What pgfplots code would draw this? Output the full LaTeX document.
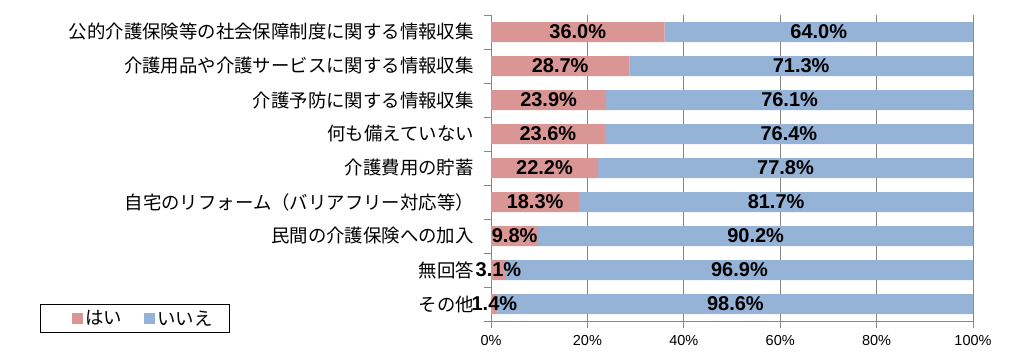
\documentclass[border=0pt]{standalone}
\usepackage{fontspec}
\setmainfont{Liberation Sans}
\newfontfamily\jp{Noto Sans CJK JP}
\usepackage{pgfplots}
\usepackage{pgfplotstable}
\pgfplotsset{compat=1.18}
\definecolor{cyes}{HTML}{D99694}
\definecolor{cno}{HTML}{95B3D7}
\definecolor{axgray}{HTML}{868686}
\pgfplotstableread{
y yes no
0 36.0 64.0
1 28.7 71.3
2 23.9 76.1
3 23.6 76.4
4 22.2 77.8
5 18.3 81.7
6 9.8 90.2
7 3.1 96.9
8 1.4 98.6
}\data
\begin{document}
\begin{tikzpicture}
\useasboundingbox (0,0) rectangle (1017pt,357pt);
\pgfplotsset{
  common/.style={
    at={(491pt,36pt)}, anchor=south west,
    scale only axis, width=482pt, height=306pt,
    xmin=0, xmax=100, ymin=-0.5, ymax=8.5, y dir=reverse,
    /pgf/number format/assume math mode=true,
  }
}
\begin{axis}[common,
  xbar stacked, bar width=20pt,
  axis x line*=bottom, axis y line*=left,
  axis line style={axgray, line width=1pt},
  tick align=outside,
  xtick={0,20,...,100},
  xticklabel={\pgfmathprintnumber{\tick}\%},
  xticklabel style={font=\fontsize{14.5}{16}\selectfont, yshift=-4pt},
  xmajorgrids, grid style={axgray, line width=1pt},
  major tick length=7pt,
  tick style={axgray, line width=1pt},
  ytick={-0.5,0.5,1.5,2.5,3.5,4.5,5.5,6.5,7.5,8.5},
  yticklabels={},
  extra y ticks={0,1,2,3,4,5,6,7,8},
  extra y tick labels={公的介護保険等の社会保障制度に関する情報収集,介護用品や介護サービスに関する情報収集,介護予防に関する情報収集,何も備えていない,介護費用の貯蓄,自宅のリフォーム（バリアフリー対応等）,民間の介護保険への加入,無回答,その他},
  extra y tick style={major tick length=0pt, yticklabel style={font=\jp\fontsize{18.4}{20}\selectfont, anchor=east, inner sep=0pt, xshift=-17pt}},
  legend style={at={(rel axis cs:-0.9357,-0.0392)}, anchor=south west,
    draw=black, line width=1pt, legend columns=2,
    font=\jp\fontsize{18.4}{20}\selectfont,
    inner xsep=15pt, inner ysep=4pt,
    /tikz/every even column/.append style={column sep=3pt}},
  legend image code/.code={\path (0pt,0pt); \fill[#1] (17pt,-5.5pt) rectangle (28pt,5.5pt);},
]
\addplot[fill=cyes, draw=none] table[x=yes, y=y] {\data};
\addlegendentry{はい}
\addplot[fill=cno, draw=none] table[x=no, y=y] {\data};
\addlegendentry{いいえ}
\end{axis}
\begin{axis}[common, hide axis,
  nodes near coords={\pgfmathprintnumber[fixed, fixed zerofill, precision=1]{\pgfplotspointmeta}\%},
  nodes near coords align={center},
  every node near coord/.append style={anchor=center, font=\bfseries\fontsize{20}{22}\selectfont, text=black},
  point meta=explicit,
]
\addplot[draw=none, mark=none] table[x expr=\thisrow{yes}/2, y=y, meta=yes] {\data};
\addplot[draw=none, mark=none] table[x expr=\thisrow{yes}+\thisrow{no}/2, y=y, meta=no] {\data};
\end{axis}
\end{tikzpicture}
\end{document}
